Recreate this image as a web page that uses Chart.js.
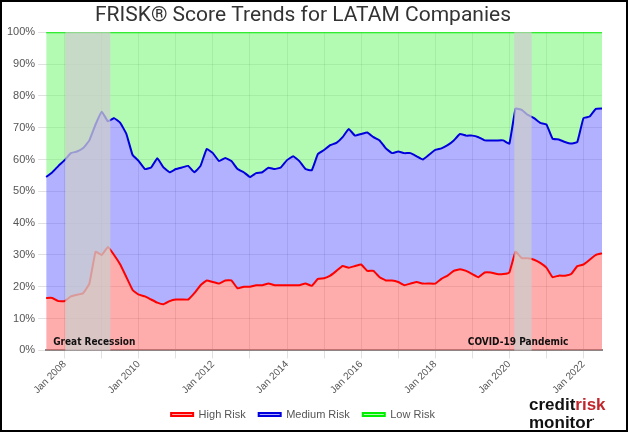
<!DOCTYPE html>
<html>
<head>
<meta charset="utf-8">
<script src="https://cdn.jsdelivr.net/npm/chart.js@4.4.0/dist/chart.umd.min.js"></script>
<style>
  html, body { margin: 0; padding: 0; background: #fff; }
  #wrap { position: relative; width: 628px; height: 432px; box-sizing: border-box; border: 2px solid #000; }
  #logo { position: absolute; left: 527px; top: 395px; font-family: "Liberation Sans", sans-serif; font-weight: bold; font-size: 17px; line-height: 15px; color: #111; }
  #logo span { color: #c0272d; }
</style>
</head>
<body>
<div id="wrap">
  <canvas id="myChart" width="624" height="428"></canvas>
  <div id="logo">credit<span>risk</span><br>monitor<sup style="font-size:6px">•</sup></div>
</div>
<script>
// bimonthly points, Jul 2007 .. Jul 2022
const startYear = 2007, startMonth = 6;
const monthNames = ["Jan","Feb","Mar","Apr","May","Jun","Jul","Aug","Sep","Oct","Nov","Dec"];

const highRisk = [16.5, 16.5, 15.5, 15.5, 17, 17.5, 18, 21, 31, 30, 32.5, 30, 27, 23, 19, 17.5,
  17, 16, 15, 14.5, 15.5, 16, 16, 16, 18, 20.5, 22, 21.5, 21, 22, 22, 19.5,
  20, 20, 20.5, 20.5, 21, 20.5, 20.5, 20.5, 20.5, 20.5, 21, 20.3, 22.5, 22.7,
  23.5, 25, 26.5, 26, 26.5, 27, 25, 25, 23, 22, 22, 21.5, 20.5, 21, 21.5, 21,
  21, 21, 22.5, 23.5, 25, 25.5, 25, 24, 23, 24.5, 24.5, 24, 24, 24.5, 31, 29,
  29, 28.5, 27.5, 26, 23, 23.5, 23.5, 24, 26.5, 27, 28.5, 30, 30.5];

// top of the medium band (high + medium)
const mediumTop = [54.5, 56, 58, 59.8, 62, 62.5, 63.6, 66, 71, 75, 72, 73, 71.5, 68, 61.4, 59.5,
  57, 57.5, 60.4, 57.5, 56, 57, 57.5, 58, 56, 58, 63.3, 62, 59.5, 60.5, 59.5, 57,
  56, 54.5, 55.7, 56, 57.4, 57, 57.5, 59.8, 61, 59.5, 57, 56.6, 61.7, 63,
  64.5, 65.2, 67, 69.6, 67.5, 68, 68.5, 67, 66, 63.5, 62, 62.5, 62, 62, 61, 60,
  61.5, 63, 63.5, 64.5, 66, 68, 67.5, 67.5, 67, 66, 66, 66, 66, 65, 76, 75.6,
  74, 73, 71.5, 71, 66.5, 66.3, 65.5, 65, 65.5, 73, 73.5, 75.9, 76];

const lowTop = highRisk.map(() => 100);

const labels = highRisk.map((v, i) => {
  const t = startMonth + i * 2;
  return monthNames[t % 12] + " " + (startYear + Math.floor(t / 12));
});

// shaded periods, as (fractional) label indexes
const periods = [
  { from: 3.1, to: 10.4, text: "Great Recession", align: "left" },
  { from: 75.8, to: 78.6, text: "COVID-19 Pandemic", align: "right" }
];

const shadePlugin = {
  id: "shade",
  afterDatasetsDraw(chart) {
    const { ctx, chartArea, scales } = chart;
    ctx.save();
    periods.forEach(p => {
      const x1 = scales.x.getPixelForValue(p.from);
      const x2 = scales.x.getPixelForValue(p.to);
      ctx.fillStyle = "rgba(205,205,205,0.75)";
      ctx.fillRect(x1, chartArea.top, x2 - x1, chartArea.bottom - chartArea.top);
      ctx.fillStyle = "#111";
      ctx.font = "bold 10px 'DejaVu Sans Condensed'";
      ctx.textBaseline = "bottom";
      if (p.align === "left") {
        ctx.textAlign = "left";
        ctx.fillText(p.text, chartArea.left + 7, chartArea.bottom - 3);
      } else {
        ctx.textAlign = "right";
        ctx.fillText(p.text, x1 + 54, chartArea.bottom - 3);
      }
    });
    ctx.restore();
  }
};

const ctx = document.getElementById("myChart").getContext("2d");
new Chart(ctx, {
  type: "line",
  data: {
    labels: labels,
    datasets: [
      { label: "High Risk", data: highRisk, borderColor: "#ff0000", backgroundColor: "rgba(255,90,90,0.5)", fill: "origin", borderWidth: 2, pointRadius: 0, tension: 0.1 },
      { label: "Medium Risk", data: mediumTop, borderColor: "#0000dd", backgroundColor: "rgba(100,100,255,0.5)", fill: "-1", borderWidth: 2, pointRadius: 0, tension: 0.1 },
      { label: "Low Risk", data: lowTop, borderColor: "#00ee00", backgroundColor: "rgba(110,245,110,0.52)", fill: "-1", borderWidth: 2, pointRadius: 0 }
    ]
  },
  options: {
    responsive: false,
    animation: false,
    layout: { padding: { left: 2, right: 24, top: 0, bottom: 0 } },
    plugins: {
      title: { display: true, text: "FRISK® Score Trends for LATAM Companies", color: "#333", font: { family: "Roboto", size: 21, weight: "normal" }, padding: { top: 1, bottom: 4 } },
      legend: {
        position: "bottom",
        labels: { boxWidth: 22, boxHeight: 3, color: "#555", font: { family: "Arial, 'Liberation Sans'", size: 11 }, padding: 13 }
      },
      tooltip: { enabled: false }
    },
    scales: {
      x: {
        offset: false,
        grid: {
          color: (c) => {
            const l = labels[c.index] || "";
            return l.startsWith("Jan") ? "rgba(0,0,0,0.12)" : "rgba(0,0,0,0)";
          }
        },
        border: { color: "#888", width: 2 },
        ticks: {
          autoSkip: false, maxRotation: 45, minRotation: 45, color: "#555", padding: 0,
          font: { family: "Arial, 'Liberation Sans'", size: 10 },
          callback: function (v, i) {
            const l = labels[i];
            return (l.startsWith("Jan") && parseInt(l.slice(4)) % 2 === 0) ? l : "";
          }
        }
      },
      y: {
        min: 0, max: 100,
        grid: { color: (c) => c.tick.value % 10 === 0 ? "rgba(0,0,0,0.12)" : "rgba(0,0,0,0.06)" },
        border: { display: false },
        ticks: {
          stepSize: 5, color: "#555", font: { family: "Arial, 'Liberation Sans'", size: 11 },
          callback: (v) => v % 10 === 0 ? v + "%" : ""
        }
      }
    }
  },
  plugins: [shadePlugin]
});
</script>
</body>
</html>
